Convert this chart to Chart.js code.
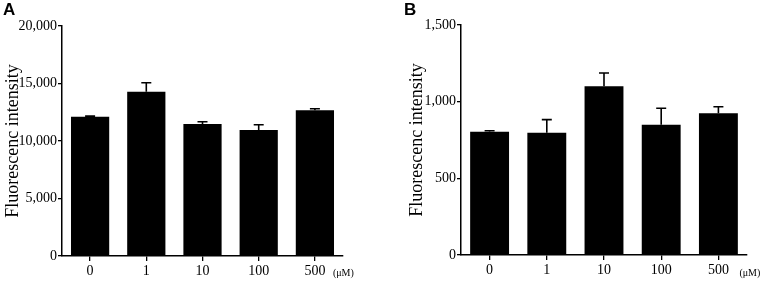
<!DOCTYPE html>
<html lang="en">
<head>
<meta charset="utf-8">
<script src="https://cdn.jsdelivr.net/npm/chart.js@4.4.1/dist/chart.umd.min.js"></script>
<style>
  body { margin: 0; background: #fff; }
  .wrap { position: relative; width: 764px; height: 282px; }
  .panel { position: absolute; top: 0; width: 382px; height: 282px; }
  .letter {
    position: absolute; top: 0px;
    font-family: 'Liberation Sans', Arial, sans-serif;
    font-weight: bold; font-size: 17px; color: #000;
  }
</style>
</head>
<body>
<div class="wrap">
  <div class="panel" style="left:0"><canvas id="chartA" width="382" height="282"></canvas></div>
  <div class="panel" style="left:382px"><canvas id="chartB" width="382" height="282"></canvas></div>
  <div class="letter" style="left:3px">A</div>
  <div class="letter" style="left:404px">B</div>
</div>

<script>
  // concentrations (µM)
  const doses = ['0', '1', '10', '100', '500'];

  // panel A
  const meanA = [12100, 14290, 11480, 10950, 12670];
  const errA = [60, 780, 200, 460, 140];
  const maxA = 20000, stepA = 5000;

  // panel B
  const meanB = [804, 798, 1100, 850, 924];
  const errB = [6, 85, 87, 107, 43];
  const maxB = 1500, stepB = 500;

  const serif = "'Liberation Serif', 'Times New Roman', serif";

  // upward-only error bars with a cap
  const errorBars = {
    id: 'errorBars',
    afterDatasetsDraw(chart, args, opts) {
      const ctx = chart.ctx;
      const y = chart.scales.y;
      const meta = chart.getDatasetMeta(0);
      const vals = chart.data.datasets[0].data;
      ctx.save();
      ctx.strokeStyle = '#000';
      ctx.lineWidth = 1.6;
      meta.data.forEach((bar, i) => {
        const top = y.getPixelForValue(vals[i] + opts.errors[i]);
        ctx.beginPath();
        ctx.moveTo(bar.x, bar.y);
        ctx.lineTo(bar.x, top);
        ctx.moveTo(bar.x - 5, top);
        ctx.lineTo(bar.x + 5, top);
        ctx.stroke();
      });
      ctx.restore();
    }
  };

  // unit text after the last category label
  const unitLabel = {
    id: 'unitLabel',
    afterDraw(chart, args, opts) {
      const ctx = chart.ctx;
      const x = chart.scales.x;
      const px = x.getPixelForTick(doses.length - 1) + opts.dx;
      ctx.save();
      ctx.font = '10px ' + serif;
      ctx.fillStyle = '#000';
      ctx.textBaseline = 'middle';
      ctx.fillText('(\u03bcM)', px, 273);
      ctx.restore();
    }
  };

  function makeChart(id, values, errors, max, step, cfg) {
    return new Chart(document.getElementById(id), {
      type: 'bar',
      data: {
        labels: doses,
        datasets: [{
          data: values,
          backgroundColor: '#000',
          borderWidth: 0,
          barPercentage: 0.68,
          categoryPercentage: 1.0
        }]
      },
      options: {
        responsive: false,
        animation: false,
        layout: { padding: { top: cfg.top, right: cfg.right, left: cfg.left, bottom: 0 } },
        plugins: {
          legend: { display: false },
          tooltip: { enabled: false },
          errorBars: { errors: errors },
          unitLabel: { dx: cfg.unitDx }
        },
        scales: {
          x: {
            grid: { display: true, offset: false, drawOnChartArea: false, drawTicks: true, tickLength: 5, color: '#000', lineWidth: 1.3 },
            border: { display: true, color: '#000', width: 1.5 },
            ticks: { color: '#000', font: { family: serif, size: 14 }, padding: 2, maxRotation: 0 },
            afterFit(scale) { scale.height = cfg.xh; }
          },
          y: {
            min: 0, max: max,
            grid: { display: true, drawOnChartArea: false, drawTicks: true, tickLength: 4, color: '#000', lineWidth: 1.3 },
            border: { display: true, color: '#000', width: 1.5 },
            ticks: {
              stepSize: step, color: '#000', padding: 1,
              font: { family: serif, size: 14 },
              callback: v => v.toLocaleString('en-US')
            },
            title: {
              display: true, text: 'Fluorescenc intensity', color: '#000',
              font: { family: serif, size: 18 }, padding: { top: 2, bottom: 0 }
            },
            afterFit(scale) { scale.width = cfg.yw; }
          }
        }
      },
      plugins: [errorBars, unitLabel]
    });
  }

  makeChart('chartA', meanA, errA, maxA, stepA, { top: 26, right: 39, left: 0, yw: 62, xh: 26, unitDx: 18 });
  makeChart('chartB', meanB, errB, maxB, stepB, { top: 25, right: 17, left: 22, yw: 57, xh: 27, unitDx: 21 });
</script>
</body>
</html>
